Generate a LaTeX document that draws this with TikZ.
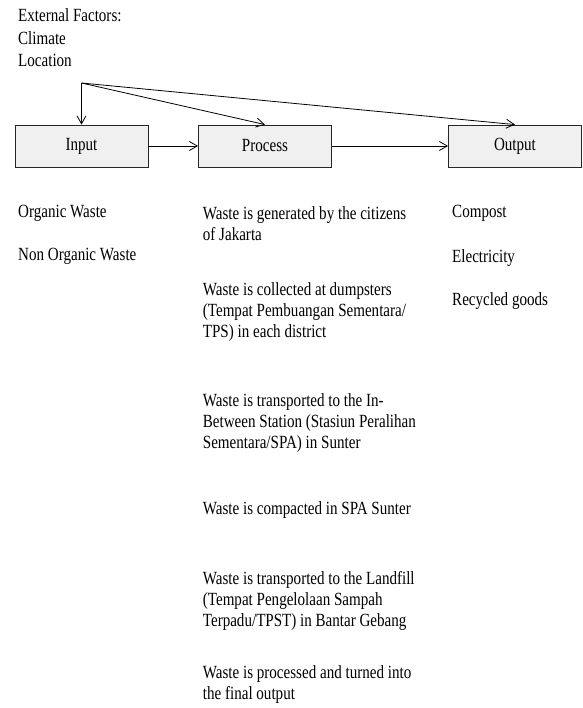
\documentclass[tikz,border=0pt]{standalone}
\usepackage{fontspec}
\setmainfont{Liberation Serif}[FakeStretch=0.81]
\usepackage{tikz}
\usetikzlibrary{arrows.meta}
\colorlet{boxfill}{black!6}
\colorlet{boxline}{black!85}

\begin{document}
\begin{tikzpicture}[x=1pt, y=-1pt,
    stage/.style={draw=boxline, fill=boxfill, line width=0.8pt, minimum width=133pt, minimum height=42pt, inner sep=0pt, font=\fontsize{18.6}{21}\selectfont},
    note/.style={anchor=base west, align=left, inner sep=0pt, font=\fontsize{18.6}{21}\selectfont},
    flow/.style={-{Straight Barb[length=8pt,width=9pt]}, line width=0.8pt}]
    \useasboundingbox (0,0) rectangle (582,708);
    % external factors (base = last line)
    \node[note, font=\fontsize{18.6}{22.5}\selectfont] (factors) at (18,67) {External Factors:\\Climate\\Location};
    \coordinate (split) at (81.5,83);
    % the three stages
    \node[stage] (input) at (81.5,146) {Input};
    \node[stage] (process) at (265,146) {Process};
    \node[stage] (output) at (515,146) {Output};
    \draw[flow] (split) -- (input);
    \draw[flow] (split) -- (process.north);
    \draw[flow] (split) -- (output.north);
    \draw[flow] (input) -- (process);
    \draw[flow] (process) -- (output);
    % input column
    \node[note] (organic) at (18,218) {Organic Waste};
    \node[note] (nonorganic) at (18,260) {Non Organic Waste};
    % process column
    \node[note] (generated) at (202.7,240.5) {Waste is generated by the citizens\\of Jakarta};
    \node[note] (collected) at (202.7,337) {Waste is collected at dumpsters\\(Tempat Pembuangan Sementara/\\TPS) in each district};
    \node[note] (transported) at (202.7,448) {Waste is transported to the In-\\Between Station (Stasiun Peralihan\\Sementara/SPA) in Sunter};
    \node[note] (compacted) at (202.7,514) {Waste is compacted in SPA Sunter};
    \node[note] (landfill) at (202.7,626) {Waste is transported to the Landfill\\(Tempat Pengelolaan Sampah\\Terpadu/TPST) in Bantar Gebang};
    \node[note] (processed) at (202.7,699) {Waste is processed and turned into\\the final output};
    % output column
    \node[note] (compost) at (452,218) {Compost};
    \node[note] (electricity) at (452,262) {Electricity};
    \node[note] (recycled) at (452,305) {Recycled goods};
\end{tikzpicture}
\end{document}
